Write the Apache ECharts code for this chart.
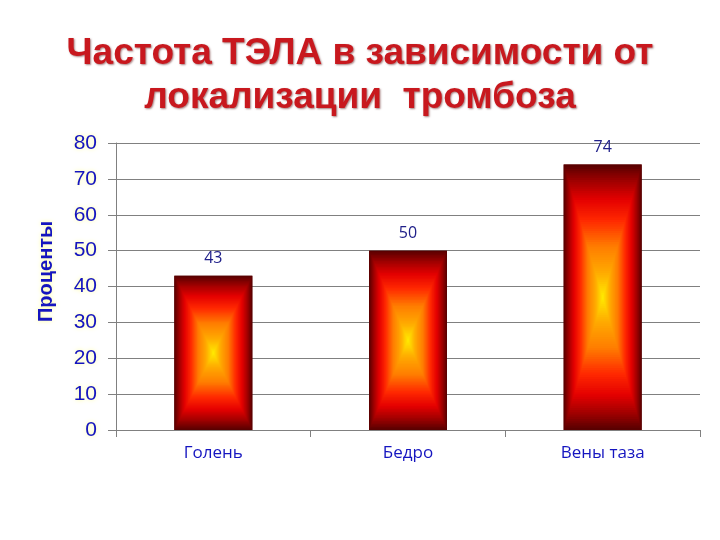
<!DOCTYPE html>
<html>
<head>
<meta charset="utf-8">
<script src="https://cdn.jsdelivr.net/npm/echarts@6/dist/echarts.min.js"></script>
<style>
  html, body { margin: 0; padding: 0; background: #fff; }
  #chart { width: 720px; height: 540px; }
</style>
</head>
<body>
<div id="chart"></div>
<script>
// chart data
const categories = ["Голень", "Бедро", "Вены таза"];
const values = [43, 50, 74];
const yTicks = { min: 0, max: 80, interval: 10 };

const blue = "#1515c0";
const BAR_W = 78;
const STEPS = 60;

// fill colours from the bar edge (0) to its centre (1)
const fillStops = [
  [0, [90, 0, 0]],
  [0.12, [160, 0, 0]],
  [0.26, [228, 0, 0]],
  [0.42, [255, 40, 0]],
  [0.62, [255, 125, 0]],
  [0.82, [255, 170, 0]],
  [1, [255, 232, 0]],
];
function fillAt(t) {
  for (let i = 1; i < fillStops.length; i++) {
    const a = fillStops[i - 1], b = fillStops[i];
    if (t <= b[0]) {
      const k = (t - a[0]) / (b[0] - a[0]);
      const c = a[1].map((v, j) => Math.round(v + (b[1][j] - v) * k));
      return "rgb(" + c.join(",") + ")";
    }
  }
  return "rgb(255,232,0)";
}

// bar drawn as nested rectangles -> rectangular "path" gradient
function renderBar(params, api) {
  const top = api.coord([api.value(0), api.value(1)]);
  const base = api.coord([api.value(0), 0]);
  const x0 = top[0] - BAR_W / 2, y0 = top[1];
  const w = BAR_W, h = base[1] - top[1];
  const children = [];
  for (let k = 0; k < STEPS; k++) {
    const f = k / STEPS / 2;
    children.push({
      type: "rect",
      shape: { x: x0 + w * f, y: y0 + h * f, width: w * (1 - 2 * f), height: h * (1 - 2 * f) },
      style: { fill: fillAt(k / (STEPS - 1)) },
      silent: true,
    });
  }
  return { type: "group", children: children };
}

const chart = echarts.init(document.getElementById("chart"));
chart.setOption({
  backgroundColor: "#ffffff",
  animation: false,
  title: {
    text: "Частота ТЭЛА в зависимости от\nлокализации  тромбоза",
    left: "center",
    top: 27,
    textStyle: {
      fontFamily: "Liberation Sans, Arial, sans-serif",
      fontWeight: "bold",
      fontSize: 37,
      lineHeight: 44,
      color: "#c8181e",
      textShadowColor: "rgba(80,0,0,0.5)",
      textShadowBlur: 2,
      textShadowOffsetX: 1,
      textShadowOffsetY: 1,
    },
  },
  grid: {
    left: 116,
    right: 20,
    top: 143,
    bottom: 110,
  },
  xAxis: {
    type: "category",
    data: categories,
    axisLine: { lineStyle: { color: "#808080", width: 1 } },
    axisTick: { show: true, length: 7, lineStyle: { color: "#808080" } },
    axisLabel: {
      margin: 15,
      fontFamily: "Open Sans, DejaVu Sans, sans-serif",
      fontSize: 17,
      color: blue,
    },
  },
  yAxis: {
    type: "value",
    min: yTicks.min,
    max: yTicks.max,
    interval: yTicks.interval,
    name: "Проценты",
    nameLocation: "middle",
    nameGap: 60,
    nameTextStyle: {
      fontFamily: "Liberation Sans, Arial, sans-serif",
      fontWeight: "bold",
      fontSize: 20,
      color: blue,
      padding: [0, 0, 0, 30],
      textShadowColor: "rgba(255,255,120,0.8)",
      textShadowBlur: 4,
    },
    axisLine: { show: true, lineStyle: { color: "#808080" } },
    axisTick: { show: true, length: 8, lineStyle: { color: "#808080" } },
    splitLine: { lineStyle: { color: "#808080", width: 1 } },
    axisLabel: {
      margin: 19,
      fontFamily: "Liberation Sans, Arial, sans-serif",
      fontSize: 21,
      color: blue,
      textShadowColor: "rgba(255,255,120,0.8)",
      textShadowBlur: 4,
    },
  },
  series: [
    {
      type: "bar",
      data: values,
      barWidth: BAR_W,
      itemStyle: { color: "rgb(90,0,0)" },
      label: {
        show: true,
        position: "top",
        distance: 9,
        fontFamily: "Open Sans, DejaVu Sans, sans-serif",
        fontSize: 16,
        color: "#20208a",
      },
    },
    {
      type: "custom",
      renderItem: renderBar,
      data: values.map((v, i) => [i, v]),
      z: 3,
    },
  ],
});
</script>
</body>
</html>
